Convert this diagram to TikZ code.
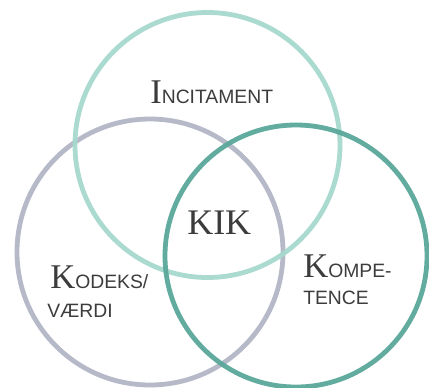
\documentclass[tikz,border=0pt]{standalone}
\usepackage{fontspec}
\setmainfont{Liberation Serif}
\newfontfamily\lsans{Liberation Sans}
\definecolor{ctop}{HTML}{A6D9CD}
\definecolor{cleft}{HTML}{B2B6C5}
\definecolor{cright}{HTML}{5AA79A}
\definecolor{ctext}{HTML}{3C3C3C}
\newcommand{\bigin}[1]{{\fontsize{26}{26}\selectfont #1}}
\newcommand{\smtx}[1]{{\lsans\fontsize{14.5}{15}\selectfont #1}}
\begin{document}
\begin{tikzpicture}[x=0.75pt,y=-0.75pt,
  ring/.style={line width=3.6pt},
  lbl/.style={anchor=base west,inner sep=0pt,text=ctext}]
\useasboundingbox (0,0) rectangle (429,387);
\draw[ring,draw=cleft,opacity=0.95] (150,252) circle[radius=133];
\draw[ring,draw=ctop,opacity=0.95] (207.5,145) circle[radius=132.5];
\draw[ring,draw=cright,opacity=0.95] (296,256) circle[radius=131];
\node[lbl] (inc) at (150,103) {\bigin{I}\smtx{NCITAMENT}};
\node[lbl] (kod) at (50,288) {\bigin{K}\smtx{ODEKS/}};
\node[lbl] (vaer) at (47,317) {\smtx{VÆRDI}};
\node[lbl] (komp) at (303,277) {\bigin{K}\smtx{OMPE-}};
\node[lbl] (tence) at (303,304) {\smtx{TENCE}};
\node[lbl] (kik) at (187,234) {\fontsize{27}{27}\selectfont KIK};
\end{tikzpicture}
\end{document}
